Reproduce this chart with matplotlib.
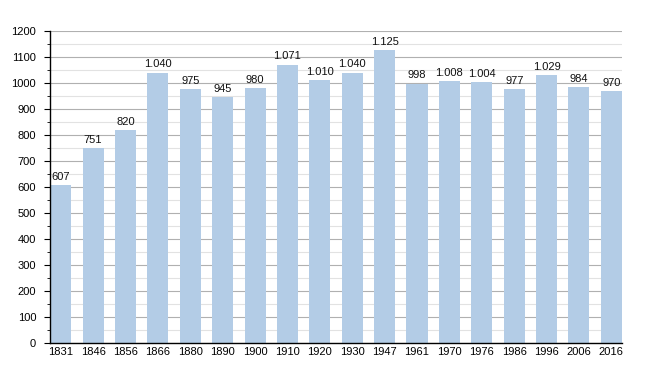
import numpy as np
import matplotlib
matplotlib.use('Agg')
import matplotlib.pyplot as plt
import matplotlib.ticker as ticker

years = ['1831', '1846', '1856', '1866', '1880', '1890', '1900', '1910', '1920',
         '1930', '1947', '1961', '1970', '1976', '1986', '1996', '2006', '2016']
population = [607, 751, 820, 1040, 975, 945, 980, 1071, 1010,
              1040, 1125, 998, 1008, 1004, 977, 1029, 984, 970]

plt.rcParams.update({'font.size': 8, 'font.family': 'Liberation Sans'})

fig = plt.figure(figsize=(6.5, 3.73), dpi=100)
ax = fig.add_axes([0.077, 0.080, 0.880, 0.837])

x = np.arange(len(years))
ax.bar(x, population, width=0.65, color='#b3cce6', zorder=2)

for xi, v in zip(x, population):
    lbl = '{:,}'.format(v).replace(',', '.')
    ax.text(xi, v + 12, lbl, ha='center', va='bottom', fontsize=8, color='#111111')

ax.set_xlim(-0.33, len(years) - 0.67)
ax.set_ylim(0, 1200)
ax.yaxis.set_major_locator(ticker.MultipleLocator(100))
ax.yaxis.set_minor_locator(ticker.MultipleLocator(50))
ax.yaxis.grid(True, which='major', color='#b0b0b0', linewidth=0.8, zorder=0)
ax.yaxis.grid(True, which='minor', color='#e2e2e2', linewidth=0.8, zorder=0)
ax.set_axisbelow(True)

ax.set_xticks(x)
ax.set_xticklabels(years)
ax.tick_params(axis='x', length=0, pad=3)
ax.tick_params(axis='y', which='major', length=4, direction='out', pad=6)
ax.tick_params(axis='y', which='minor', length=2, direction='out')

for s in ['top', 'right']:
    ax.spines[s].set_visible(False)
ax.spines['left'].set_linewidth(1.0)
ax.spines['bottom'].set_linewidth(1.0)

plt.savefig('out.png', dpi=100)
